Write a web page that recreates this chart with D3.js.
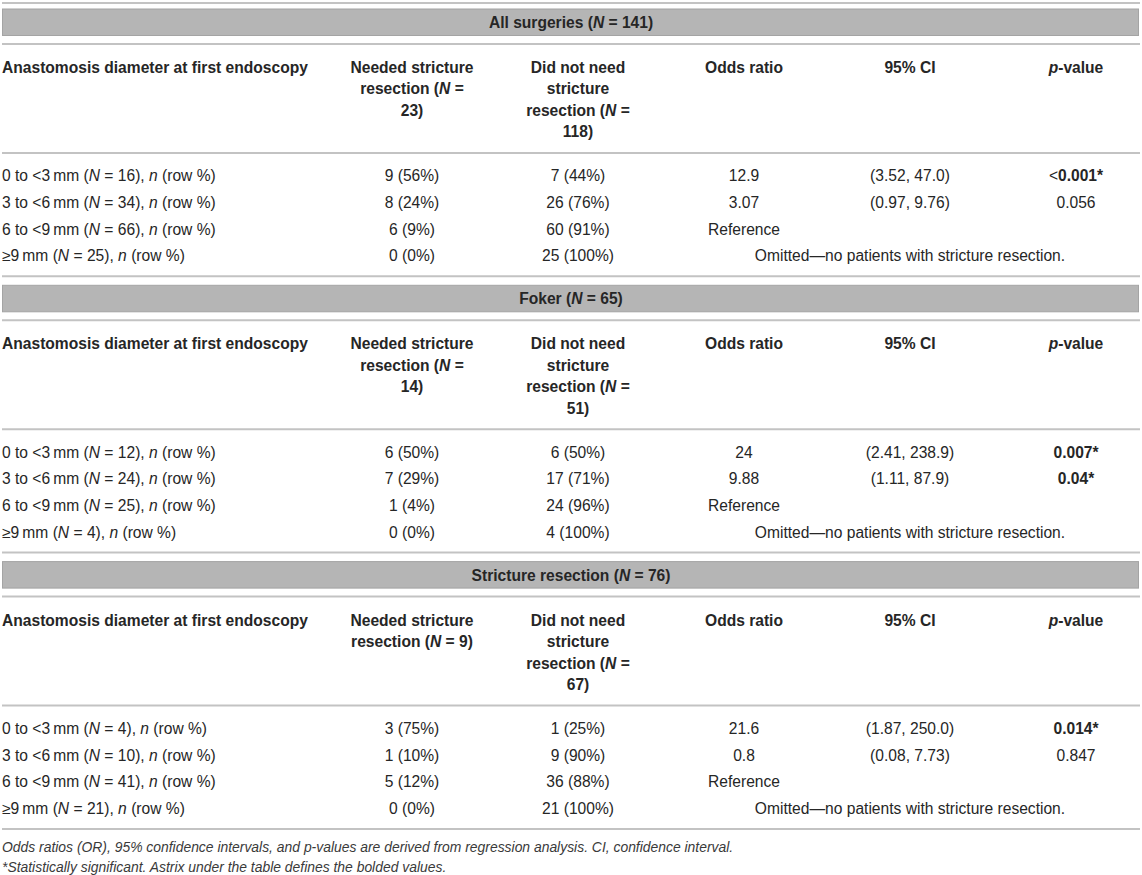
<!DOCTYPE html>
<html>
<head>
<meta charset="utf-8">
<script src="https://cdn.jsdelivr.net/npm/d3@7"></script>
<style>
  body { margin: 0; background: #fff; }
  svg text { font-family: "Liberation Sans", Arial, Helvetica, sans-serif; fill: #262626; }
</style>
</head>
<body>
<div id="table"></div>
<script>
const sectionNames = ["All surgeries", "Foker", "Stricture resection"];
const sectionN = [141, 65, 76];
const neededN = [23, 14, 9];
const notNeededN = [118, 51, 67];
const diameterBins = ["0 to <3\u2009mm", "3 to <6\u2009mm", "6 to <9\u2009mm", "\u22659\u2009mm"];
const binN = [[16, 34, 66, 25], [12, 24, 25, 4], [4, 10, 41, 21]];
const neededCount = [[9, 8, 6, 0], [6, 7, 1, 0], [3, 1, 5, 0]];
const neededPct = [[56, 24, 9, 0], [50, 29, 4, 0], [75, 10, 12, 0]];
const notNeededCount = [[7, 26, 60, 25], [6, 17, 24, 4], [1, 9, 36, 21]];
const notNeededPct = [[44, 76, 91, 100], [50, 71, 96, 100], [25, 90, 88, 100]];
const oddsRatio = [["12.9", "3.07"], ["24", "9.88"], ["21.6", "0.8"]];
const ciLower = [["3.52", "0.97"], ["2.41", "1.11"], ["1.87", "0.08"]];
const ciUpper = [["47.0", "9.76"], ["238.9", "87.9"], ["250.0", "7.73"]];
const pValue = [["<0.001", "0.056"], ["0.007", "0.04"], ["0.014", "0.847"]];
const significant = [[true, false], [true, true], [true, false]];
// header lines as they wrap in the cells, {N} marks the italic N and its value
const neededHead = [
  ["Needed stricture", "resection ({N} =", "{v})"],
  ["Needed stricture", "resection ({N} =", "{v})"],
  ["Needed stricture", "resection ({N} = {v})"]
];
const notNeededHead = ["Did not need", "stricture", "resection ({N} =", "{v})"];
const referenceLabel = "Reference";
const omittedLabel = "Omitted\u2014no patients with stricture resection.";
const footnotes = [
  "Odds ratios (OR), 95% confidence intervals, and p-values are derived from regression analysis. CI, confidence interval.",
  "*Statistically significant. Astrix under the table defines the bolded values."
];

// ---- layout ----
const W = 1142, H = 875;
const fontSize = 15.6;
const cfg = {
  left: 2, right: 1140,
  headLine: 21.5, rowStep: 26.6,
  rule: "#c3c3c3", band: "#b5b5b5", bandStroke: "#a4a4a4"
};

const svg = d3.select("#table").append("svg")
  .attr("width", W).attr("height", H)
  .style("font-size", fontSize + "px");

const x = d3.scalePoint()
  .domain(["needed", "notNeeded", "or", "ci", "p"])
  .range([412, 1076]);

// rich text: list of {t, i, b}
function richText(g, segs, px, py, anchor) {
  const t = g.append("text")
    .attr("x", px).attr("y", py).attr("dy", "0.35em")
    .attr("text-anchor", anchor || "middle");
  segs.forEach(s => {
    t.append("tspan").text(s.t)
      .attr("font-style", s.i ? "italic" : null)
      .attr("font-weight", s.b ? "bold" : null);
  });
  return t;
}

// turn a header line with {N}/{v} markers into bold segments
function headSegs(line, v) {
  return line.replace("{v}", v).split(/(\{N\})/).filter(p => p)
    .map(p => p === "{N}" ? {t: "N", i: true, b: true} : {t: p, b: true});
}

function rule(y) {
  svg.append("line")
    .attr("x1", cfg.left).attr("x2", cfg.right)
    .attr("y1", y).attr("y2", y)
    .attr("stroke", cfg.rule).attr("stroke-width", 2);
}

let yTop = 3;
rule(yTop);

sectionNames.forEach((name, s) => {
  const g = svg.append("g");
  const bandTop = yTop + (s === 0 ? 6 : 9);
  g.append("rect")
    .attr("x", cfg.left + 0.5).attr("y", bandTop)
    .attr("width", cfg.right - cfg.left - 2).attr("height", 26.5)
    .attr("fill", cfg.band).attr("stroke", cfg.bandStroke).attr("stroke-width", 1);
  richText(g, [{t: name + " (", b: true}, {t: "N", i: true, b: true}, {t: " = " + sectionN[s] + ")", b: true}],
    W / 2, bandTop + 13.5);
  const headRule = bandTop + 27 + 8;
  rule(headRule);

  // header cells
  const heads = [
    {key: "label", lines: [[{t: "Anastomosis diameter at first endoscopy", b: true}]]},
    {key: "needed", lines: neededHead[s].map(l => headSegs(l, neededN[s]))},
    {key: "notNeeded", lines: notNeededHead.map(l => headSegs(l, notNeededN[s]))},
    {key: "or", lines: [[{t: "Odds ratio", b: true}]]},
    {key: "ci", lines: [[{t: "95% CI", b: true}]]},
    {key: "p", lines: [[{t: "p", i: true, b: true}, {t: "-value", b: true}]]}
  ];
  const headY0 = headRule + 23.5;
  heads.forEach(h => {
    h.lines.forEach((ln, k) => {
      if (h.key === "label") richText(g, ln, cfg.left, headY0 + k * cfg.headLine, "start");
      else richText(g, ln, x(h.key), headY0 + k * cfg.headLine);
    });
  });
  const nHead = d3.max(heads, h => h.lines.length);
  const dataRule = headY0 + (nHead - 1) * cfg.headLine + 21;
  rule(dataRule);

  // body rows
  const y = d3.scaleLinear()
    .domain([0, diameterBins.length - 1])
    .range([dataRule + 23, dataRule + 23 + (diameterBins.length - 1) * cfg.rowStep]);

  diameterBins.forEach((bin, r) => {
    const ry = y(r);
    richText(g, [{t: bin + " ("}, {t: "N", i: true}, {t: " = " + binN[s][r] + "), "}, {t: "n", i: true}, {t: " (row %)"}],
      cfg.left, ry, "start");
    richText(g, [{t: neededCount[s][r] + " (" + neededPct[s][r] + "%)"}], x("needed"), ry);
    richText(g, [{t: notNeededCount[s][r] + " (" + notNeededPct[s][r] + "%)"}], x("notNeeded"), ry);
    if (r < oddsRatio[s].length) {
      richText(g, [{t: oddsRatio[s][r]}], x("or"), ry);
      richText(g, [{t: "(" + ciLower[s][r] + ", " + ciUpper[s][r] + ")"}], x("ci"), ry);
      const pv = pValue[s][r];
      if (significant[s][r]) {
        const segs = pv.startsWith("<")
          ? [{t: "<"}, {t: pv.slice(1) + "*", b: true}]
          : [{t: pv + "*", b: true}];
        richText(g, segs, x("p"), ry);
      } else {
        richText(g, [{t: pv}], x("p"), ry);
      }
    } else if (r === oddsRatio[s].length) {
      richText(g, [{t: referenceLabel}], x("or"), ry);
    } else {
      richText(g, [{t: omittedLabel}], x("ci"), ry);
    }
  });

  yTop = y(diameterBins.length - 1) + 20.5;
  rule(yTop);
});

// footnotes
footnotes.forEach((f, k) => {
  svg.append("text")
    .attr("x", cfg.left).attr("y", yTop + 18 + k * 20).attr("dy", "0.35em")
    .attr("font-style", "italic")
    .style("font-size", "13.9px")
    .style("fill", "#3a3a3a")
    .text(f);
});
</script>
</body>
</html>
